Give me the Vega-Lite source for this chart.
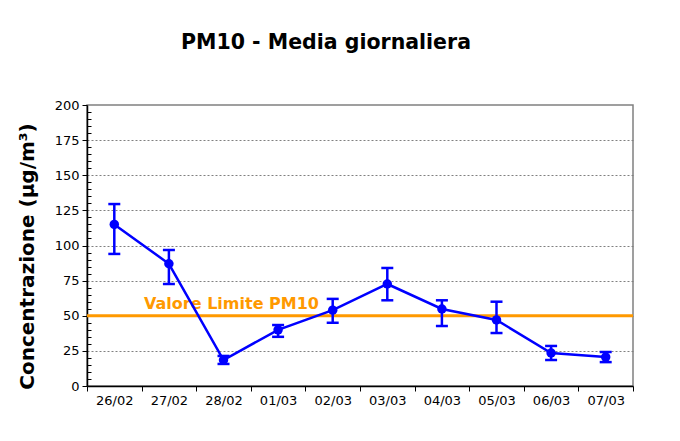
{
  "$schema": "https://vega.github.io/schema/vega-lite/v6.json",
  "width": 546,
  "height": 281,
  "autosize": {"type": "none"},
  "padding": {"left": 87, "top": 105, "right": 47, "bottom": 55},
  "background": "white",
  "config": {
    "font": "DejaVu Sans",
    "view": {"stroke": "#808080", "strokeWidth": 1.5},
    "axis": {"labelFont": "DejaVu Sans", "titleFont": "DejaVu Sans", "labelColor": "#000", "titleColor": "#000", "domainColor": "#000", "tickColor": "#000", "labelFontSize": 13}
  },
  "title": {"text": "PM10 - Media giornaliera", "fontSize": 20.5, "fontWeight": "bold", "font": "DejaVu Sans", "color": "#000", "anchor": "middle", "frame": "group", "dx": -34, "offset": 46},
  "data": {"values": [
    {"date": "26/02", "v": 115, "lo": 94, "hi": 129.5},
    {"date": "27/02", "v": 87, "lo": 72.6, "hi": 96.8},
    {"date": "28/02", "v": 18.5, "lo": 15.7, "hi": 21.4},
    {"date": "01/03", "v": 40, "lo": 35, "hi": 43.4},
    {"date": "02/03", "v": 54, "lo": 45, "hi": 62},
    {"date": "03/03", "v": 72.6, "lo": 61, "hi": 84},
    {"date": "04/03", "v": 54.8, "lo": 42.7, "hi": 61},
    {"date": "05/03", "v": 47, "lo": 37.7, "hi": 60},
    {"date": "06/03", "v": 23.5, "lo": 18.5, "hi": 28.5},
    {"date": "07/03", "v": 20.6, "lo": 17, "hi": 24.2}
  ]},
  "encoding": {
    "x": {"field": "date", "type": "nominal", "sort": null,
      "scale": {"domain": ["26/02","27/02","28/02","01/03","02/03","03/03","04/03","05/03","06/03","07/03"], "paddingInner": 0, "paddingOuter": 0},
      "axis": {"title": null, "labelAngle": 0, "tickBand": "extent", "tickSize": 5, "labelPadding": 3, "domainWidth": 1.5}}
  },
  "layer": [
    {
      "data": {"values": [{"v": 50, "label": "Valore Limite PM10", "date": "28/02"}]},
      "mark": {"type": "rule", "color": "#FF9900", "strokeWidth": 3},
      "encoding": {
        "x": null,
        "y": {"field": "v", "type": "quantitative",
          "scale": {"domain": [0, 200]},
          "axis": {
            "title": "Concentrazione (µg/m³)", "titleFontSize": 20, "titleFontWeight": "bold",
            "titleX": -60, "titleY": 151, "titleBaseline": "middle", "titleAlign": "center", "titleAngle": -90,
            "values": [0,5,10,15,20,25,30,35,40,45,50,55,60,65,70,75,80,85,90,95,100,105,110,115,120,125,130,135,140,145,150,155,160,165,170,175,180,185,190,195,200],
            "tickCount": 100,
            "labelExpr": "datum.value % 25 === 0 ? datum.label : ''",
            "labelOverlap": false,
            "tickSize": {"condition": {"test": "datum.value % 25 === 0", "value": 5}, "value": -4},
            "labelPadding": 3,
            "domainWidth": 1.5,
            "grid": true,
            "gridColor": "#808080",
            "gridDash": [2, 2],
            "gridWidth": 1,
            "gridOpacity": {"condition": {"test": "datum.value % 25 === 0 && datum.value > 0 && datum.value < 200", "value": 1}, "value": 0}
          }}
      }
    },
    {
      "data": {"values": [{"v": 50, "label": "Valore Limite PM10", "date": "28/02"}]},
      "mark": {"type": "text", "color": "#FF9900", "fontWeight": "bold", "fontSize": 16, "dy": -12, "dx": 8, "align": "center"},
      "encoding": {
        "x": {"field": "date", "type": "nominal"},
        "y": {"field": "v", "type": "quantitative"},
        "text": {"field": "label"}
      }
    },
    {
      "mark": {"type": "rule", "color": "#0000FF", "strokeWidth": 2.5},
      "encoding": {
        "y": {"field": "lo", "type": "quantitative"},
        "y2": {"field": "hi"}
      }
    },
    {
      "mark": {"type": "tick", "color": "#0000FF", "thickness": 2.5, "size": 12, "orient": "horizontal", "opacity": 1},
      "encoding": {"y": {"field": "lo", "type": "quantitative"}}
    },
    {
      "mark": {"type": "tick", "color": "#0000FF", "thickness": 2.5, "size": 12, "orient": "horizontal", "opacity": 1},
      "encoding": {"y": {"field": "hi", "type": "quantitative"}}
    },
    {
      "mark": {"type": "line", "color": "#0000FF", "strokeWidth": 2.5, "point": {"filled": true, "size": 90, "color": "#0000FF", "opacity": 1}},
      "encoding": {"y": {"field": "v", "type": "quantitative"}}
    }
  ]
}
